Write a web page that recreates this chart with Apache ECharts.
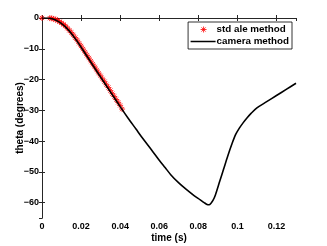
<!DOCTYPE html>
<html><head><meta charset="utf-8">
<script src="https://cdn.jsdelivr.net/npm/echarts@6/dist/echarts.min.js"></script>
<style>html,body{margin:0;padding:0;background:#fff}#c{width:327px;height:246px}</style>
</head><body><div id="c"></div>
<script>
var stdTime = [0,0.001,0.002,0.003,0.004,0.005,0.006,0.007,0.008,0.009,0.010,0.011,0.012,0.013,0.014,0.015,0.016,0.017,0.018,0.019,0.020,0.021,0.022,0.023,0.024,0.025,0.026,0.027,0.028,0.029,0.030,0.031,0.032,0.033,0.034,0.035,0.036,0.037,0.038,0.039,0.040,0.041];
var stdTheta = [0,0.1,0.1,0.05,-0.05,-0.1,-0.3,-0.5,-0.8,-1.2,-1.6,-2.1,-2.6,-3.3,-4.0,-4.7,-5.5,-6.4,-7.2,-8.2,-9.1,-10.1,-11.1,-12.1,-13.0,-14.0,-15.0,-15.9,-16.9,-17.9,-18.8,-19.8,-20.7,-21.7,-22.6,-23.6,-24.6,-25.5,-26.5,-27.4,-28.4,-29.6];
var camTime = [0,0.002,0.004,0.006,0.008,0.010,0.012,0.015,0.018,0.021,0.025,0.030,0.035,0.040,0.044,0.048,0.052,0.056,0.060,0.063,0.066,0.070,0.074,0.078,0.081,0.083,0.0845,0.0855,0.0865,0.0875,0.0887,0.091,0.093,0.095,0.097,0.099,0.101,0.103,0.105,0.107,0.110,0.115,0.120,0.125,0.130];
var camTheta = [0,0,-0.1,-0.4,-1.0,-1.8,-2.9,-5.0,-7.6,-10.5,-14.4,-19.2,-24.0,-28.8,-32.5,-36.0,-39.5,-42.8,-46.2,-48.6,-51.0,-53.6,-55.8,-57.8,-59.1,-60.0,-60.6,-60.7,-60.2,-59.3,-57.6,-53.0,-49.0,-45.0,-41.3,-38.0,-35.8,-34.0,-32.4,-31.0,-29.2,-27.2,-25.2,-23.2,-21.2];
var xTicks = [0,0.02,0.04,0.06,0.08,0.1,0.12];
var yTicks = [0,-10,-20,-30,-40,-50,-60];

var FONT = '"Liberation Sans", Arial, sans-serif';
var AX = '#262626';
function pair(a,b){return a.map(function(v,i){return [v,b[i]];});}
var star = 'path://M0,5L10,5M5,0L5,10M1.5,1.5L8.5,8.5M8.5,1.5L1.5,8.5';
var starLegend = 'path://M0,0L0,0Z M10,4L16,4M13,1L13,7M10.9,1.9L15.1,6.1M15.1,1.9L10.9,6.1 M25,8L25,8Z';
var lineLegend = 'path://M0,0L0,0Z M0,3.3L25,3.3L25,4.7L0,4.7Z M25,8L25,8Z';

var chart = echarts.init(document.getElementById('c'), null, {renderer:'canvas'});
chart.setOption({
  animation:false,
  backgroundColor:'#fff',
  grid:{left:42,right:31,top:18,bottom:28, containLabel:false, outerBoundsMode:'none'},
  legend:{
    right:35, top:22, orient:'vertical', align:'left',
    backgroundColor:'#fff', borderColor:'#000', borderWidth:0.8,
    padding:[2,3,2,2], itemGap:1, itemWidth:25, itemHeight:8,
    textStyle:{fontFamily:FONT, fontWeight:'bold', fontSize:9.8, lineHeight:11, color:'#000', padding:[0,0,0,-4]},
    data:[
      {name:'std ale method', icon: starLegend, itemStyle:{color:'transparent', borderColor:'#ff0000', borderWidth:1}},
      {name:'camera method', icon: lineLegend, itemStyle:{color:'#000', borderWidth:0}}
    ]
  },
  xAxis:[{
    type:'value', min:0, max:0.13, interval:0.02, position:'bottom',
    name:'time (s)', nameLocation:'middle', nameGap:15, nameMoveOverlap:false,
    nameTextStyle:{fontFamily:FONT, fontWeight:'bold', fontSize:10, color:'#000'},
    axisLine:{lineStyle:{color:AX, width:1}},
    axisTick:{inside:true, length:3, lineStyle:{color:AX}},
    axisLabel:{fontFamily:FONT, fontWeight:'bold', fontSize:9, color:'#000', margin:4, showMaxLabel:false,
      formatter:function(v){ var r=Math.round(v*100)/100; return xTicks.indexOf(r) >= 0 ? String(r) : ''; }},
    splitLine:{show:false}
  },{
    type:'value', min:0, max:0.13, interval:0.02, position:'top',
    axisLine:{lineStyle:{color:AX, width:1}},
    axisTick:{inside:true, length:3, lineStyle:{color:AX}},
    axisLabel:{show:false}, splitLine:{show:false}
  }],
  yAxis:[{
    type:'value', min:-65, max:0, splitNumber:6, position:'left',
    name:'theta (degrees)', nameLocation:'middle', nameGap:17, nameMoveOverlap:false,
    nameTextStyle:{fontFamily:FONT, fontWeight:'bold', fontSize:10, color:'#000'},
    axisLine:{lineStyle:{color:AX, width:1}},
    axisTick:{inside:true, length:3, lineStyle:{color:AX}},
    axisLabel:{fontFamily:FONT, fontWeight:'bold', fontSize:9, color:'#000', margin:3, showMinLabel:false,
      formatter:function(v){ return yTicks.indexOf(v) >= 0 ? String(v).replace('-', '\u2212') : ''; }},
    splitLine:{show:false}
  },{
    type:'value', min:-65, max:0, splitNumber:6, position:'right',
    axisLine:{lineStyle:{color:AX, width:1}},
    axisTick:{inside:true, length:3, lineStyle:{color:AX}},
    axisLabel:{show:false}, splitLine:{show:false}
  }],
  series:[{
    name:'std ale method', type:'scatter', symbol:star, symbolSize:6,
    itemStyle:{color:'transparent', borderColor:'#ff0000', borderWidth:1},
    data: pair(stdTime, stdTheta), z:2
  },{
    name:'camera method', type:'line', symbol:'none', smooth:0.3,
    lineStyle:{color:'#000', width:1.6},
    itemStyle:{color:'#000'},
    data: pair(camTime, camTheta), z:3
  }]
});
</script></body></html>
